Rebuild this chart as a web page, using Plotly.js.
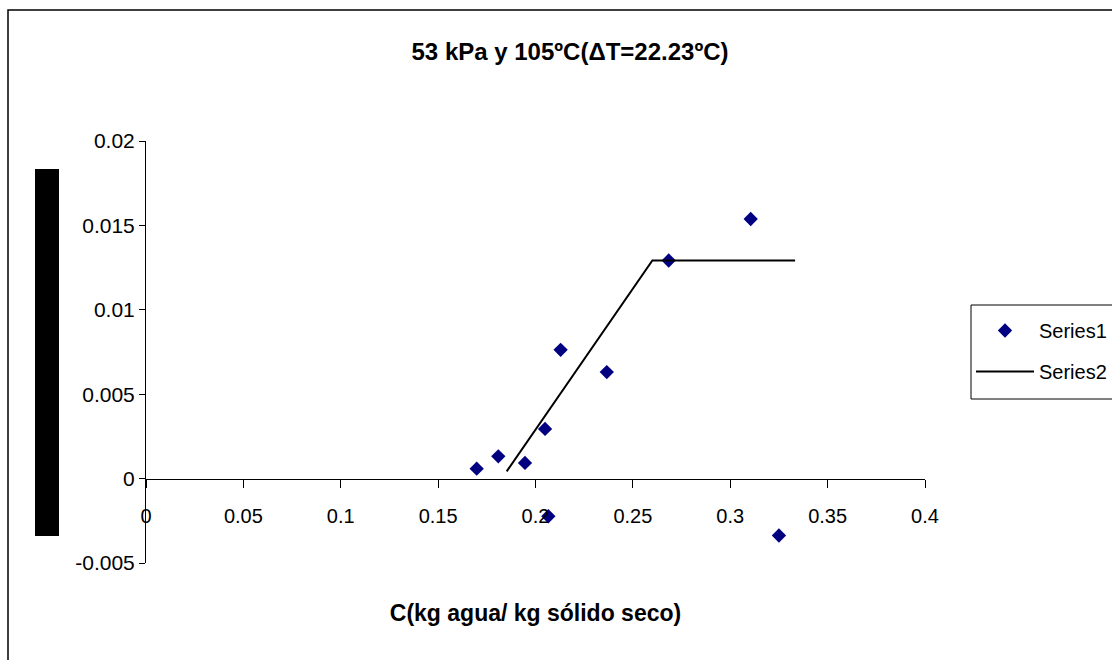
<!DOCTYPE html>
<html>
<head>
<meta charset="utf-8">
<script src="https://cdn.plot.ly/plotly-3.0.1.min.js"></script>
<style>html,body{margin:0;padding:0;background:#fff;}#chart{width:1112px;height:660px;}</style>
</head>
<body>
<div id="chart"></div>
<script>
// Series1: measured points
const series1X = [0.1698, 0.1809, 0.1946, 0.2049, 0.2066, 0.2129, 0.2366, 0.2684, 0.3105, 0.3250];
const series1Y = [0.00059, 0.00132, 0.00093, 0.00294, -0.00223, 0.00763, 0.00631, 0.01292, 0.01538, -0.00337];
// Series2: fitted line
const series2X = [0.1852, 0.2600, 0.3333];
const series2Y = [0.00043, 0.01292, 0.01292];
// Tick labels
const xTickVals = [0, 0.05, 0.1, 0.15, 0.2, 0.25, 0.3, 0.35, 0.4];
const xTickText = ["0", "0.05", "0.1", "0.15", "0.2", "0.25", "0.3", "0.35", "0.4"];
const yTickVals = [-0.005, 0, 0.005, 0.01, 0.015, 0.02];
const yTickText = ["-0.005", "0", "0.005", "0.01", "0.015", "0.02"];
const seriesNames = ["Series1", "Series2"];
const titleText = "53 kPa y 105ºC(ΔT=22.23ºC)";
const xTitleText = "C(kg agua/ kg sólido seco)";

const FONT = "Arial, 'Liberation Sans', sans-serif";

const traces = [
  {
    x: series1X, y: series1Y, type: "scatter", mode: "markers", name: seriesNames[0],
    legendgroup: "g1",
    marker: {symbol: "diamond", size: 11, color: "#000080"},
    cliponaxis: false
  },
  {
    x: series2X, y: series2Y, type: "scatter", mode: "lines", name: seriesNames[1],
    legendgroup: "g2",
    line: {color: "#000000", width: 2},
    cliponaxis: false
  }
];

const layout = {
  width: 1112, height: 660,
  margin: {l: 146, r: 187, t: 141, b: 97},
  paper_bgcolor: "#ffffff", plot_bgcolor: "#ffffff",
  font: {family: FONT, color: "#000000", size: 20},
  title: {
    text: titleText, font: {family: FONT, size: 24, weight: "bold", color: "#000"},
    xref: "container", yref: "container", x: 570/1112, y: 1 - 52/660,
    xanchor: "center", yanchor: "middle"
  },
  xaxis: {
    range: [0, 0.4], anchor: "free", position: 84/422,
    tickvals: xTickVals, ticktext: xTickText,
    showline: true, linecolor: "#000", linewidth: 1,
    ticks: "outside", ticklen: 8, tickcolor: "#000", tickwidth: 1,
    ticklabelstandoff: 11,
    showgrid: false, zeroline: false,
    tickfont: {family: FONT, size: 20, color: "#000"},
    title: {text: xTitleText, font: {family: FONT, size: 23, weight: "bold", color: "#000"}, standoff: 78}
  },
  yaxis: {
    range: [-0.005, 0.02],
    tickvals: yTickVals, ticktext: yTickText,
    showline: true, linecolor: "#000", linewidth: 1,
    ticks: "outside", ticklen: 6, tickcolor: "#000", tickwidth: 1,
    showgrid: false, zeroline: false,
    tickfont: {family: FONT, size: 21, color: "#000"}
  },
  showlegend: true,
  legend: {
    xref: "container", yref: "container",
    x: 971/1112, y: 1 - 311/660, xanchor: "left", yanchor: "top",
    borderwidth: 0, bgcolor: "rgba(0,0,0,0)",
    font: {family: FONT, size: 20, color: "#000"},
    traceorder: "grouped", tracegroupgap: 12, itemwidth: 58
  },
  shapes: [
    {type: "rect", xref: "paper", yref: "paper",
     x0: (8-146)/779, x1: (1130-146)/779, y0: (563-680)/422, y1: (563-10)/422,
     line: {color: "#000", width: 1.5}, fillcolor: "rgba(0,0,0,0)", layer: "below"},
    {type: "rect", xref: "paper", yref: "paper",
     x0: (971-146)/779, x1: (1130-146)/779, y0: (563-399)/422, y1: (563-305)/422,
     line: {color: "#000", width: 1}, fillcolor: "#ffffff", layer: "below"},
    {type: "rect", xref: "paper", yref: "paper",
     x0: (35-146)/779, x1: (59-146)/779, y0: (563-536)/422, y1: (563-169)/422,
     line: {width: 0}, fillcolor: "#000000"}
  ]
};

Plotly.newPlot("chart", traces, layout, {displayModeBar: false, staticPlot: true});
</script>
</body>
</html>
